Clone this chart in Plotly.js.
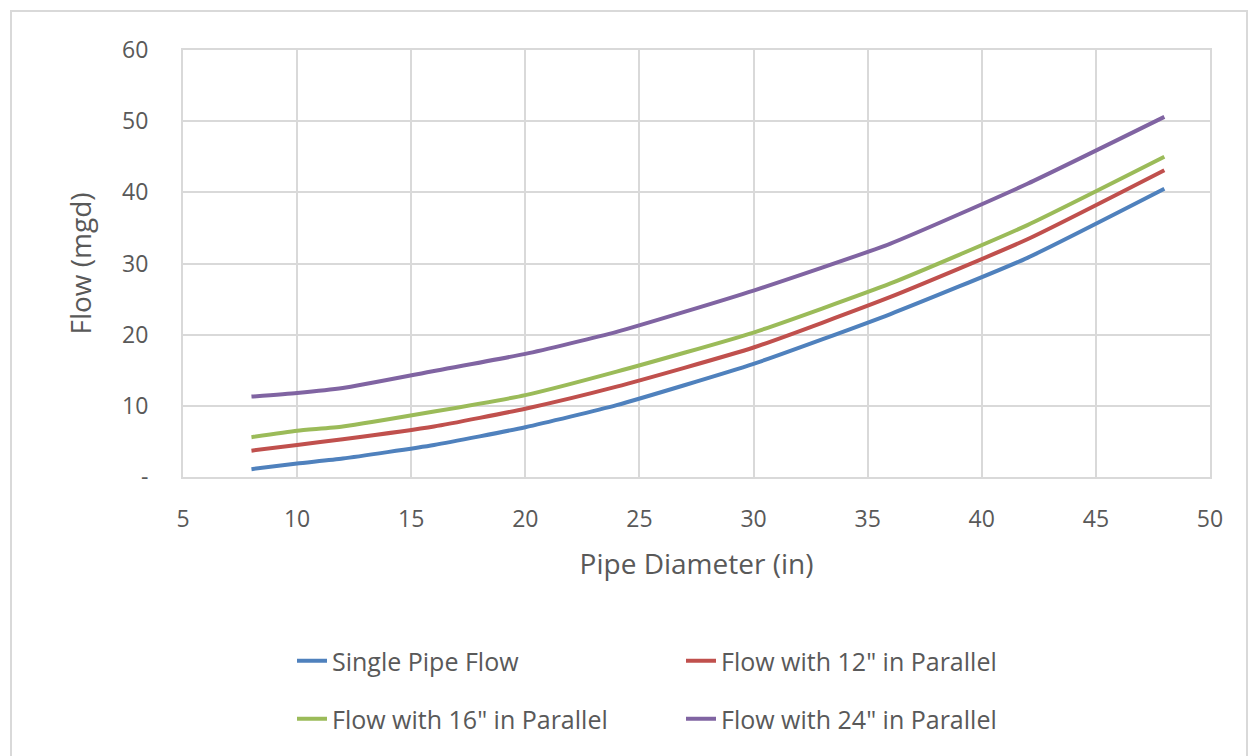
<!DOCTYPE html>
<html>
<head>
<meta charset="utf-8">
<script src="https://cdn.plot.ly/plotly-3.0.1.min.js"></script>
<style>
  html, body { margin: 0; padding: 0; background: #ffffff; }
  #frame { position: absolute; left: 10px; top: 10px; width: 1238px; height: 760px; border: 2px solid #d9d9d9; box-sizing: border-box; }
  #chart { position: absolute; left: 0; top: 0; width: 1252px; height: 756px; }
</style>
</head>
<body>
<div id="frame"></div>
<div id="chart"></div>
<script>
const diameters = [8, 10, 12, 16, 20, 24, 30, 36, 42, 48];
const singlePipe = [1.1, 1.9, 2.6, 4.5, 7.0, 10.1, 15.9, 22.9, 30.8, 40.5];
const with12 = [3.7, 4.5, 5.3, 7.1, 9.6, 12.7, 18.2, 25.3, 33.4, 43.1];
const with16 = [5.6, 6.5, 7.1, 9.2, 11.5, 14.8, 20.3, 27.2, 35.4, 45.0];
const with24 = [11.3, 11.8, 12.5, 14.9, 17.3, 20.4, 26.2, 32.8, 41.2, 50.6];
const seriesNames = ['Single Pipe Flow', 'Flow with 12" in Parallel', 'Flow with 16" in Parallel', 'Flow with 24" in Parallel'];
const yTickVals = [0, 10, 20, 30, 40, 50, 60];
const yTickText = ['-', '10', '20', '30', '40', '50', '60'];
const xTickVals = [5, 10, 15, 20, 25, 30, 35, 40, 45, 50];

const colors = ['#4F81BD', '#C0504D', '#9BBB59', '#8064A2'];
const legends = ['legend', 'legend', 'legend2', 'legend2'];
const ys = [singlePipe, with12, with16, with24];

const traces = ys.map((y, i) => ({
  x: diameters, y: y, name: seriesNames[i], type: 'scatter', mode: 'lines',
  line: { color: colors[i], width: 4, shape: 'spline', smoothing: 0.5 },
  legend: legends[i]
}));

const fontFam = '"Open Sans", "Noto Sans", sans-serif';
const legendCommon = {
  orientation: 'h', xref: 'container', yref: 'container',
  xanchor: 'left', yanchor: 'middle',
  entrywidth: 344, entrywidthmode: 'pixels',
  font: { family: fontFam, size: 25, color: '#595959' },
  bgcolor: 'rgba(0,0,0,0)', itemwidth: 30
};

const layout = {
  width: 1252, height: 756,
  paper_bgcolor: 'rgba(0,0,0,0)', plot_bgcolor: '#ffffff',
  margin: { l: 183, r: 42, t: 50, b: 279 },
  showlegend: true,
  font: { family: fontFam, color: '#595959' },
  xaxis: {
    range: [5, 50], tickvals: xTickVals, ticktext: xTickVals.map(String),
    showgrid: true, gridcolor: '#d9d9d9', gridwidth: 2,
    showline: true, mirror: true, linecolor: '#d9d9d9', linewidth: 2,
    zeroline: false, ticks: '', ticklabelstandoff: 20,
    tickfont: { family: fontFam, size: 23, color: '#595959' },
    title: { text: 'Pipe Diameter (in)', font: { family: fontFam, size: 28, color: '#595959' }, standoff: 22 }
  },
  yaxis: {
    range: [0, 60], tickvals: yTickVals, ticktext: yTickText,
    showgrid: true, gridcolor: '#d9d9d9', gridwidth: 2,
    showline: true, mirror: true, linecolor: '#d9d9d9', linewidth: 2,
    zeroline: false, ticks: '', ticklabelstandoff: 28,
    tickfont: { family: fontFam, size: 23, color: '#595959' },
    title: { text: 'Flow (mgd)', font: { family: fontFam, size: 28, color: '#595959' }, standoff: 22 }
  },
  legend: Object.assign({}, legendCommon, { x: 292 / 1252, y: 1 - 661 / 756 }),
  legend2: Object.assign({}, legendCommon, { x: 292 / 1252, y: 1 - 719 / 756 })
};

Plotly.newPlot('chart', traces, layout, { displayModeBar: false, staticPlot: true });
</script>
</body>
</html>
